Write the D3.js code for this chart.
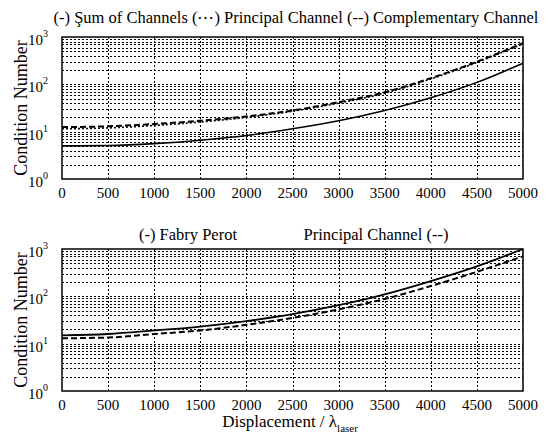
<!DOCTYPE html>
<html>
<head>
<meta charset="utf-8">
<script src="https://cdn.jsdelivr.net/npm/d3@7"></script>
</head>
<body style="margin:0; font-family: 'Times New Roman', 'Liberation Serif', Tinos;">
<div id="chartArea"></div>
<script>
// Displacement samples (in units of laser wavelength)
let displacement = [0, 500, 1000, 1500, 2000, 2500, 3000, 3500, 4000, 4500, 5000];

// Top panel
let sumChannels = [5, 5.1, 5.6, 6.6, 8.3, 11.5, 17, 28, 52, 110, 280];
let principalTop = [11.5, 12, 13.5, 16, 20, 27, 40, 65, 130, 290, 720];
let complementary = [12.5, 13, 14.5, 17, 21, 28, 42, 68, 135, 300, 740];

// Bottom panel
let fabryPerot = [15, 16, 19, 23, 30, 42, 65, 110, 210, 430, 1000];
let principalBottom = [13, 13.5, 16, 19, 25, 35, 53, 88, 165, 330, 700];

let xTicks = [0, 500, 1000, 1500, 2000, 2500, 3000, 3500, 4000, 4500, 5000];
let yMajor = [1, 10, 100, 1000];

let width = 558, height = 437;
let plotLeft = 62, plotRight = 523;
let fontName = "'Times New Roman'";

let svg = d3.select('#chartArea').append('svg')
    .attr('width', width)
    .attr('height', height)
    .style('font-family', fontName);

let xScale = d3.scaleLinear().domain([0, 5000]).range([plotLeft, plotRight]);

// minor grid values 2..9 in every decade
let yMinor = [];
[1, 10, 100].forEach(d => {
    for (let k = 2; k <= 9; k++) yMinor.push(d * k);
});

function addText(parent, size) {
    return parent.append('text')
        .style('font-family', fontName)
        .style('font-size', size + 'px');
}

function drawPanel(top, bottom, series) {
    let yScale = d3.scaleLog().domain([1, 1000]).range([bottom, top]);
    let g = svg.append('g');

    // grid
    g.selectAll('.ygrid')
        .data(yMinor.concat(yMajor.slice(1, 3)))
        .enter().append('line')
        .attr('x1', plotLeft).attr('x2', plotRight)
        .attr('y1', d => Math.round(yScale(d)) + 0.5).attr('y2', d => Math.round(yScale(d)) + 0.5)
        .attr('stroke', '#000')
        .attr('stroke-width', 1)
        .attr('stroke-dasharray', '2,2');

    g.selectAll('.xgrid')
        .data(xTicks.slice(1, -1))
        .enter().append('line')
        .attr('x1', d => Math.round(xScale(d)) + 0.5).attr('x2', d => Math.round(xScale(d)) + 0.5)
        .attr('y1', top).attr('y2', bottom)
        .attr('stroke', '#000')
        .attr('stroke-width', 1)
        .attr('stroke-dasharray', '2,2');

    let line = d3.line()
        .curve(d3.curveMonotoneX)
        .x((d, i) => xScale(displacement[i]))
        .y(d => yScale(d));

    series.forEach(s => {
        g.append('path')
            .attr('d', line(s.values))
            .attr('fill', 'none')
            .attr('stroke', '#000')
            .attr('stroke-width', s.width)
            .attr('stroke-dasharray', s.dash);
    });

    // box
    g.append('rect')
        .attr('x', plotLeft).attr('y', top)
        .attr('width', plotRight - plotLeft).attr('height', bottom - top)
        .attr('fill', 'none')
        .attr('stroke', '#000')
        .attr('stroke-width', 1.5);

    // x tick labels
    xTicks.forEach(t => {
        addText(g, 15)
            .attr('x', xScale(t))
            .attr('y', bottom + 19)
            .attr('text-anchor', 'middle')
            .text(t);
    });

    // y tick labels: 10 with superscript exponent
    yMajor.forEach(v => {
        addText(g, 15)
            .attr('x', plotLeft - 19)
            .attr('y', yScale(v) + 8)
            .attr('text-anchor', 'end')
            .text('10');
        addText(g, 10)
            .attr('x', plotLeft - 14)
            .attr('y', yScale(v))
            .attr('text-anchor', 'end')
            .text(Math.round(Math.log10(v)));
    });

    // y axis title
    addText(svg, 18)
        .attr('transform', 'translate(27,' + ((top + bottom) / 2) + ') rotate(-90)')
        .attr('text-anchor', 'middle')
        .text('Condition Number');

    return yScale;
}

drawPanel(37, 179, [
    { values: sumChannels, width: 1.6, dash: null },
    { values: principalTop, width: 1.6, dash: '2,2' },
    { values: complementary, width: 2, dash: '6,3' }
]);

drawPanel(249, 391, [
    { values: fabryPerot, width: 1.8, dash: null },
    { values: principalBottom, width: 2, dash: '6,3' }
]);

// titles
addText(svg, 16.5)
    .attr('x', 296).attr('y', 23)
    .attr('text-anchor', 'middle')
    .text('(-) Şum of Channels (\u22EF) Principal Channel (--) Complementary Channel');

addText(svg, 16.5)
    .attr('x', 188).attr('y', 240)
    .attr('text-anchor', 'middle')
    .text('(-) Fabry Perot');

addText(svg, 16.5)
    .attr('x', 376).attr('y', 240)
    .attr('text-anchor', 'middle')
    .text('Principal Channel (--)');

// x axis title with subscript
let xt = addText(svg, 17)
    .attr('x', 290).attr('y', 427)
    .attr('text-anchor', 'middle');
xt.append('tspan').text('Displacement / \u03BB');
xt.append('tspan')
    .attr('dy', 5)
    .style('font-size', '11px')
    .text('laser');
</script>
</body>
</html>
